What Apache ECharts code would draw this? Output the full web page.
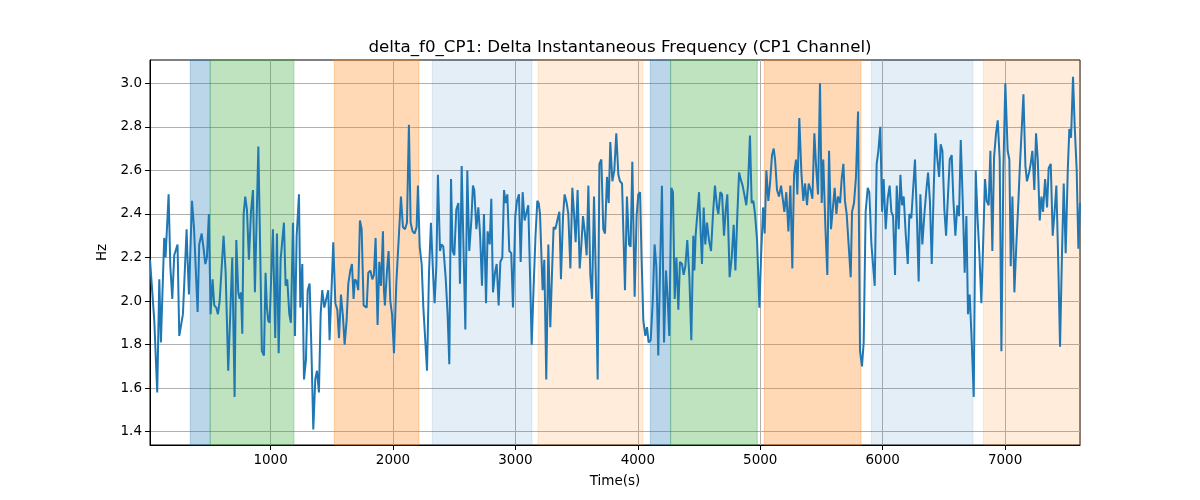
<!DOCTYPE html>
<html>
<head>
<meta charset="utf-8">
<script src="https://cdn.jsdelivr.net/npm/echarts@6/dist/echarts.min.js"></script>
<style>html,body{margin:0;padding:0;background:#fff}#chart{width:1200px;height:500px}</style>
</head>
<body>
<div id="chart"></div>
<script>
const times = [15,50,74,91,104,131,142,167,181,197,213,240,254,268,284,314,322,333,358,374,390,404,417,437,453,467,480,496,510,526,540,556,570,584,616,633,643,
654,687,706,720,736,747,758,769,780,793,807,823,840,856,872,900,913,929,946,959,970,981,992,1019,1038,1052,1066,1082,1096,1109,1123,1136,1153,1166,1183,1199,1213,1232,1243,1259,1273,
1289,1303,1319,1333,1349,1365,1379,1395,1409,1422,1439,1455,1471,1482,1499,1512,1529,1545,1559,1575,1591,1605,1621,1635,1651,1665,1678,1689,1703,1716,1730,1744,1760,1785,1798,1815,1831,1844,1858,1874,1888,1902,1918,
1926,1934,1951,1964,1978,1992,2008,2027,2049,2065,2081,2098,2114,2130,2144,2160,2177,2193,2204,2218,2234,2248,2261,2278,2294,2310,2327,2340,2354,2367,2384,2397,2411,2430,2446,2460,2474,2487,2501,2517,2534,2547,2561,
2591,2607,2623,2640,2653,2664,2681,2697,2711,2727,2743,2760,2773,2790,2803,2817,2833,2847,2863,2877,2893,2907,2920,2934,2950,2966,2980,2999,3013,3029,3043,3059,3075,3089,3105,3119,3133,3149,3165,3179,3190,
3201,3222,3236,3252,3269,3285,3299,3312,3326,3342,3359,3372,3389,3402,3419,3432,3449,3465,3479,3492,3508,3525,3538,3552,3568,3582,3596,3612,3626,3642,3656,3672,3686,3702,3718,3732,3748,3762,3775,3792,3808,3824,
3841,3854,3871,3895,3911,3928,3941,3955,3974,3990,4004,4018,4031,4045,4061,4075,4088,4105,4121,4137,4151,4167,4181,4197,4214,4230,4244,4257,4274,4287,4301,4315,4331,4344,4361,4374,4388,4404,4421,4437,4453,4462,
4472,4486,4500,4511,4524,4538,4551,4565,4581,4598,4614,4630,4647,4658,4674,4688,4704,4718,4731,4750,4767,4783,4797,4813,4827,4840,4856,4870,4886,4900,4916,4930,4944,4957,4974,4993,5006,5023,5036,5050,5066,5080,5096,5110,
5121,5137,5153,5170,5186,5197,5213,5230,5246,5262,5276,5292,5303,5319,5336,5352,5366,5382,5396,5412,5426,5442,5456,5472,5488,5502,5515,5532,5548,5562,5578,5592,5608,5622,5635,5652,5665,5679,5692,5706,5722,5739,5750,
5766,5782,5799,5815,5831,5845,5861,5878,5891,5908,5919,5935,5951,5965,5981,5995,6008,6025,6041,6057,6071,6085,6101,6115,6131,6145,6158,6172,6188,6205,6218,6234,6248,6264,6281,6294,6308,6324,6341,6357,6371,6386,
6401,6417,6431,6447,6461,6474,6488,6504,6518,6534,6548,6564,6578,6594,6610,6624,6638,6654,6670,6684,6697,6711,6727,6744,6760,6776,6790,6806,6820,6836,6850,6866,6880,6896,6910,6926,6940,6956,6970,6986,7002,7021,
7035,7046,7060,7076,7092,7109,7120,7133,7150,7166,7179,7196,7209,7223,7239,7253,7267,7283,7297,7310,7327,7343,7356,7373,7389,7403,7419,7435,7449,7465,7479,7495,7512,7525,7539,7555,7569,7585,7599,7612];

const values = [2.19,1.91,1.58,2.10,1.81,2.29,2.20,2.49,2.16,2.01,2.21,2.26,1.84,1.84,1.94,2.33,2.19,2.03,2.46,2.34,2.34,1.95,2.26,2.31,2.24,2.17,2.20,2.40,1.94,2.10,1.98,1.97,1.94,2.00,2.30,2.13,2.13,
1.68,2.20,1.56,2.28,2.04,2.01,2.04,1.85,2.40,2.48,2.42,2.19,2.41,2.51,2.04,2.71,2.30,1.77,1.75,2.13,1.97,1.91,1.90,2.33,1.83,2.31,1.76,2.19,2.28,2.36,2.07,2.10,1.94,1.90,2.36,1.84,2.30,2.49,1.97,2.17,1.64,
1.73,2.05,2.08,1.79,1.41,1.64,1.68,1.58,1.94,2.05,1.97,1.97,2.05,1.82,2.07,2.27,1.99,1.96,1.83,2.03,1.93,1.80,1.91,2.08,2.14,2.17,2.01,2.10,2.09,2.05,2.37,2.33,1.98,1.97,2.13,2.14,2.10,2.12,2.29,1.89,2.18,2.07,2.32,
2.05,1.98,2.14,2.23,2.00,1.94,1.76,2.08,2.31,2.48,2.34,2.33,2.36,2.81,2.36,2.32,2.31,2.34,2.53,2.25,2.17,1.97,1.97,1.68,2.13,2.36,2.13,1.99,2.16,2.58,2.23,2.26,2.25,2.11,1.94,1.71,2.56,2.23,2.21,2.42,2.45,2.08,2.62,
1.87,2.60,2.23,2.37,2.53,2.51,2.33,2.43,2.31,2.07,2.40,1.99,2.32,2.26,2.47,2.04,2.13,2.17,1.98,2.18,2.20,2.51,2.45,2.49,2.23,2.22,1.97,2.39,2.46,2.49,2.18,2.50,2.37,2.37,2.44,2.13,1.80,2.07,2.31,2.46,2.45,
2.40,2.05,2.19,1.64,2.26,1.88,2.13,2.34,2.33,2.37,2.41,2.10,2.39,2.49,2.45,2.40,2.15,2.52,2.40,2.27,2.51,2.15,2.25,2.39,2.31,2.21,2.53,2.12,2.01,2.48,2.13,1.64,2.63,2.65,2.33,2.31,2.57,2.45,2.73,2.55,2.60,2.77,
2.58,2.55,2.54,2.05,2.48,2.26,2.25,2.64,2.02,2.39,2.49,2.50,2.19,1.91,1.84,1.88,1.81,1.82,1.99,2.26,2.16,1.75,2.13,2.53,1.81,2.14,2.01,1.84,2.52,2.50,2.01,2.20,1.96,2.18,2.17,2.12,2.16,2.28,2.11,1.82,2.30,2.14,
2.30,2.30,2.50,2.50,2.17,2.43,2.26,2.36,2.28,2.23,2.40,2.53,2.43,2.40,2.50,2.49,2.30,2.42,2.49,2.11,2.20,2.35,2.14,2.40,2.59,2.56,2.53,2.49,2.44,2.53,2.76,2.45,2.46,2.40,2.28,1.97,2.19,2.43,2.31,2.60,2.46,2.54,2.67,2.70,
2.65,2.51,2.48,2.53,2.46,2.41,2.50,2.32,2.53,2.15,2.58,2.65,2.49,2.84,2.59,2.46,2.54,2.44,2.54,2.51,2.47,2.77,2.62,2.49,3.00,2.45,2.65,2.34,2.12,2.69,2.33,2.33,2.52,2.40,2.48,2.45,2.56,2.63,2.46,2.40,2.40,2.11,2.41,
2.45,2.57,2.87,1.77,1.70,1.81,2.41,2.52,2.50,2.26,2.26,2.07,2.63,2.69,2.80,2.41,2.56,2.33,2.47,2.53,2.41,2.39,2.12,2.53,2.33,2.58,2.44,2.48,2.31,2.17,2.40,2.38,2.38,2.65,2.36,2.09,2.49,2.26,2.40,2.51,2.59,2.46,
2.17,2.51,2.77,2.65,2.57,2.72,2.69,2.42,2.30,2.49,2.65,2.67,2.46,2.30,2.44,2.39,2.74,2.46,2.13,2.39,1.94,2.03,1.82,1.56,2.60,2.37,2.22,1.99,2.25,2.56,2.46,2.44,2.69,2.23,2.66,2.77,2.83,2.65,1.77,2.60,3.00,2.69,
2.65,2.16,2.48,2.04,2.26,2.46,2.61,2.61,2.95,2.62,2.55,2.59,2.63,2.69,2.51,2.77,2.65,2.37,2.48,2.41,2.56,2.43,2.61,2.63,2.30,2.40,2.53,2.16,1.79,2.22,2.54,2.22,2.60,2.79,2.75,3.03,2.80,2.60,2.24,2.45];

const spanStarts = [344, 507, 1520, 2321, 3185, 4102, 4268, 5033, 5908, 6823];
const spanEnds   = [507, 1191, 2212, 3135, 4042, 4268, 4976, 5823, 6738, 7612];
const spanKinds  = ['A', 'B', 'C', 'D', 'E', 'A', 'B', 'C', 'D', 'E'];

const xTicks = [1000, 2000, 3000, 4000, 5000, 6000, 7000];
const yTicks = [1.4, 1.6, 1.8, 2.0, 2.2, 2.4, 2.6, 2.8, 3.0];

const titleText = 'delta_f0_CP1: Delta Instantaneous Frequency (CP1 Channel)';
const xName = 'Time(s)';
const yName = 'Hz';

// styles
const kindColors = {
  A: 'rgba(31,119,180,0.3)',
  B: 'rgba(44,160,44,0.3)',
  C: 'rgba(255,127,14,0.3)',
  D: 'rgba(31,119,180,0.12)',
  E: 'rgba(255,127,14,0.15)'
};
const FONT = 'DejaVu Sans';

const lineData = times.map((t, i) => [t, values[i]]);
const areas = spanStarts.map((s, i) => [
  { xAxis: s, itemStyle: { color: kindColors[spanKinds[i]], borderColor: kindColors[spanKinds[i]], borderWidth: 1 } },
  { xAxis: spanEnds[i] }
]);

const chart = echarts.init(document.getElementById('chart'), null, { renderer: 'canvas' });
chart.setOption({
  animation: false,
  backgroundColor: '#fff',
  title: {
    text: titleText,
    left: 615,
    top: 34,
    textAlign: 'center',
    textStyle: { fontFamily: FONT, fontSize: 16.7, fontWeight: 'normal', color: '#000' }
  },
  grid: { left: 150, right: 120, top: 60, bottom: 55, show: true, borderColor: '#000', borderWidth: 1, backgroundColor: 'transparent' },
  xAxis: {
    type: 'value', min: 15, max: 7612,
    name: xName, nameLocation: 'middle', nameGap: 29,
    nameTextStyle: { fontFamily: FONT, fontSize: 13.5, color: '#000' },
    axisLine: { show: true, onZero: false, lineStyle: { color: '#000', width: 1 } },
    axisTick: { show: true, length: 5, customValues: xTicks, lineStyle: { color: '#000' } },
    axisLabel: { customValues: xTicks, fontFamily: FONT, fontSize: 13.5, color: '#000', margin: 8,
      formatter: v => String(v) },
    splitLine: { show: true, lineStyle: { color: '#b0b0b0', width: 1 } }
  },
  yAxis: {
    type: 'value', min: 1.339, max: 3.107,
    name: yName, nameLocation: 'middle', nameGap: 37,
    nameTextStyle: { fontFamily: FONT, fontSize: 13.5, color: '#000' },
    axisLine: { show: true, onZero: false, lineStyle: { color: '#000', width: 1 } },
    axisTick: { show: true, length: 5, customValues: yTicks, lineStyle: { color: '#000' } },
    axisLabel: { customValues: yTicks, fontFamily: FONT, fontSize: 13.5, color: '#000', margin: 8,
      formatter: v => v.toFixed(1) },
    splitLine: { show: true, lineStyle: { color: '#b0b0b0', width: 1 } }
  },
  series: [
    { type: 'line', data: [], z: 1, silent: true, markArea: { silent: true, data: areas } },
    { type: 'line', data: lineData, z: 3, symbol: 'none', showSymbol: false,
      lineStyle: { color: '#1f77b4', width: 2 }, itemStyle: { color: '#1f77b4' } }
  ]
});
</script>
</body>
</html>
